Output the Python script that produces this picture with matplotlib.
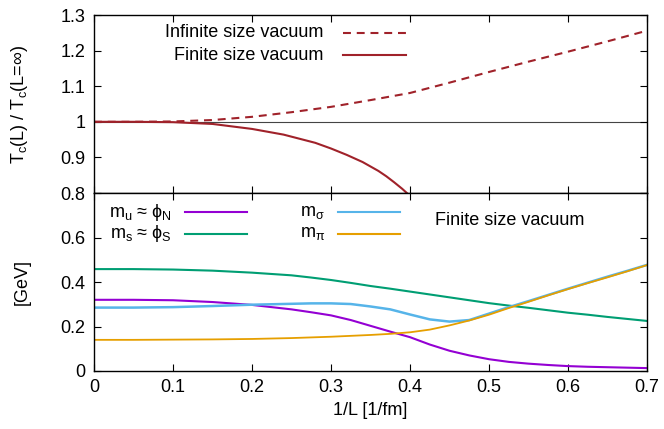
import numpy as np
import matplotlib
matplotlib.use('Agg')
import matplotlib.pyplot as plt

plt.rcParams['font.family'] = ['Liberation Sans', 'DejaVu Sans']
plt.rcParams['mathtext.fontset'] = 'custom'
plt.rcParams['mathtext.rm'] = 'Liberation Sans'
plt.rcParams['mathtext.it'] = 'Liberation Sans'
plt.rcParams['mathtext.fallback'] = 'stixsans'

# top panel: Tc(L)/Tc(inf)
x_inf = [0, 0.05, 0.1, 0.15, 0.2, 0.25, 0.3, 0.35, 0.4, 0.45, 0.5, 0.55, 0.6, 0.65, 0.7]
tc_inf = [1.0, 1.0, 1.001, 1.005, 1.014, 1.027, 1.042, 1.061, 1.081, 1.110, 1.14, 1.169, 1.197, 1.226, 1.256]
x_fin = [0, 0.05, 0.1, 0.15, 0.2, 0.24, 0.28, 0.3, 0.32, 0.34, 0.36, 0.37, 0.38, 0.39, 0.396]
tc_fin = [1.0, 1.0, 0.999, 0.994, 0.980, 0.964, 0.941, 0.925, 0.907, 0.887, 0.862, 0.847, 0.830, 0.812, 0.80]

# bottom panel: masses [GeV]
x_m = [0, 0.05, 0.1, 0.15, 0.2, 0.25, 0.275, 0.3, 0.325, 0.35, 0.375, 0.4, 0.425, 0.45,
       0.475, 0.5, 0.525, 0.55, 0.575, 0.6, 0.625, 0.65, 0.675, 0.7]
m_u = [0.320, 0.320, 0.318, 0.310, 0.297, 0.277, 0.264, 0.250, 0.229, 0.203, 0.177, 0.152,
       0.119, 0.091, 0.070, 0.053, 0.041, 0.033, 0.027, 0.022, 0.019, 0.017, 0.015, 0.013]
m_s = [0.458, 0.458, 0.456, 0.451, 0.442, 0.430, 0.420, 0.409, 0.396, 0.382, 0.370, 0.357,
       0.344, 0.331, 0.318, 0.305, 0.294, 0.284, 0.273, 0.262, 0.253, 0.243, 0.234, 0.225]
m_sigma = [0.285, 0.285, 0.287, 0.292, 0.298, 0.302, 0.304, 0.304, 0.301, 0.290, 0.277, 0.254,
           0.232, 0.222, 0.229, 0.258, 0.287, 0.314, 0.342, 0.370, 0.397, 0.424, 0.450, 0.477]
m_pi = [0.140, 0.140, 0.141, 0.142, 0.144, 0.148, 0.151, 0.154, 0.158, 0.162, 0.167, 0.174,
        0.186, 0.205, 0.227, 0.253, 0.283, 0.311, 0.340, 0.368, 0.395, 0.421, 0.448, 0.476]

red = '#a0222a'
c_u, c_s, c_sig, c_pi = '#9400d3', '#009e73', '#56b4e9', '#e69f00'
fs = 13

fig = plt.figure(figsize=(6.64, 4.29), dpi=100)
ax1 = fig.add_axes([0.1416, 0.5501, 0.8328, 0.4149])
ax2 = fig.add_axes([0.1416, 0.1352, 0.8328, 0.4149])

for ax in (ax1, ax2):
    ax.set_xlim(0, 0.7)
    ax.tick_params(direction='in', length=5, width=0.8, top=True, right=True,
                   labelsize=fs, pad=6)
    for s in ax.spines.values():
        s.set_linewidth(1.0)
    ax.set_xticks(np.arange(0, 0.71, 0.1))

# top
ax1.axhline(1.0, color='#444444', lw=0.8, zorder=1)
ax1.plot(x_inf, tc_inf, color=red, lw=1.5, dashes=(3.8, 2.8))
ax1.plot(x_fin, tc_fin, color=red, lw=1.5)
ax1.set_ylim(0.8, 1.3)
ax1.set_yticks([0.8, 0.9, 1.0, 1.1, 1.2, 1.3])
ax1.set_yticklabels(['0.8', '0.9', '1', '1.1', '1.2', '1.3'])
ax1.set_xticklabels([])
ax1.set_ylabel(r'T$_\mathrm{c}$(L) / T$_\mathrm{c}$(L=$\infty$)', fontsize=fs)
ax1.yaxis.set_label_coords(-0.115, 0.5)

tr = ax1.transAxes
ax1.text(0.414, 0.899, 'Infinite size vacuum', transform=tr, ha='right', va='center', fontsize=fs)
ax1.text(0.414, 0.775, 'Finite size vacuum', transform=tr, ha='right', va='center', fontsize=fs)
ax1.plot([0.450, 0.564], [0.899, 0.899], transform=tr, color=red, lw=1.5, dashes=(3.8, 2.8))
ax1.plot([0.450, 0.564], [0.775, 0.775], transform=tr, color=red, lw=1.5)

# bottom
ax2.plot(x_m, m_u, color=c_u, lw=1.5)
ax2.plot(x_m, m_s, color=c_s, lw=1.5)
ax2.plot(x_m, m_sigma, color=c_sig, lw=1.8)
ax2.plot(x_m, m_pi, color=c_pi, lw=1.3)
ax2.set_ylim(0, 0.8)
ax2.set_yticks([0, 0.2, 0.4, 0.6, 0.8])
ax2.set_yticklabels(['0', '0.2', '0.4', '0.6', ''])
ax2.set_xticklabels(['0', '0.1', '0.2', '0.3', '0.4', '0.5', '0.6', '0.7'])
ax2.set_ylabel('[GeV]', fontsize=fs)
ax2.yaxis.set_label_coords(-0.115, 0.5)
ax2.set_xlabel('1/L [1/fm]', fontsize=fs, labelpad=4)

tr = ax2.transAxes
labels = [(r'm$_\mathrm{u}$ ≈ $\phi_\mathrm{N}$', c_u, 0.141, 0.165, 0.277, 0.893),
          (r'm$_\mathrm{s}$ ≈ $\phi_\mathrm{S}$', c_s, 0.141, 0.165, 0.277, 0.770),
          (r'm$_\mathrm{σ}$', c_sig, 0.418, 0.441, 0.553, 0.893),
          (r'm$_\mathrm{π}$', c_pi, 0.418, 0.441, 0.553, 0.770)]
for lab, c, xt, x0, x1, yy in labels:
    ax2.text(xt, yy, lab, transform=tr, ha='right', va='center', fontsize=fs)
    ax2.plot([x0, x1], [yy, yy], transform=tr, color=c, lw=1.5)
ax2.text(0.617, 0.848, 'Finite size vacuum', transform=tr, ha='left', va='center', fontsize=fs)

fig.savefig('out.png', dpi=100)
